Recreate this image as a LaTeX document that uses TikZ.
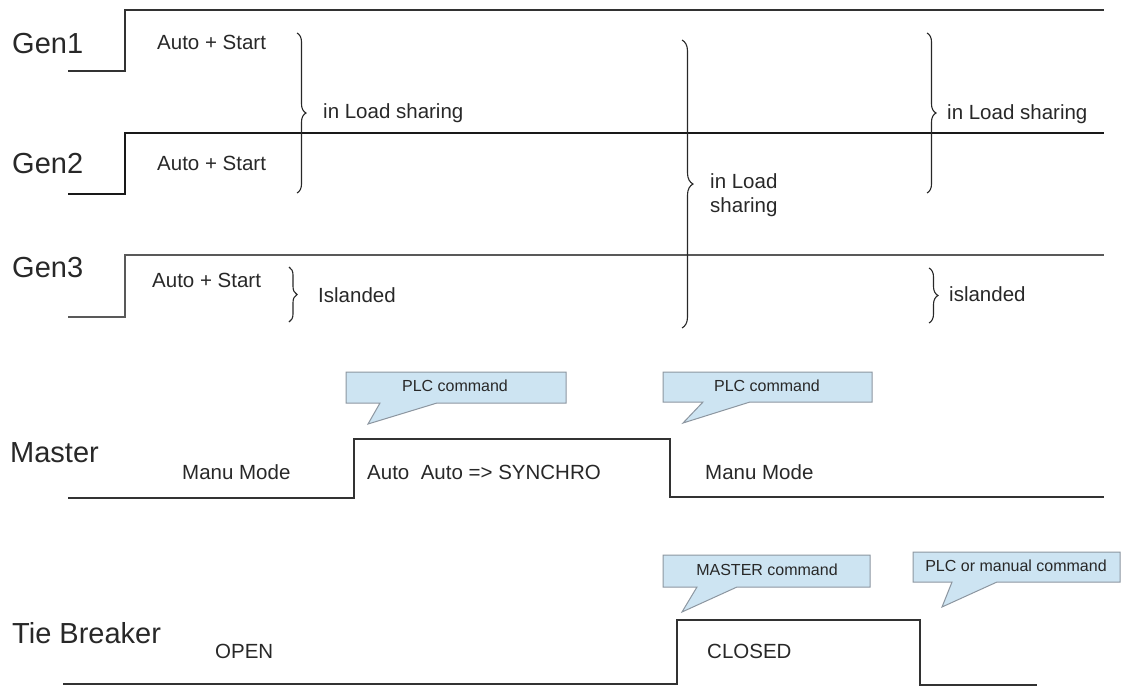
\documentclass[tikz,border=0pt]{standalone}
\usepackage{fontspec}
\setmainfont{Liberation Sans}
\usetikzlibrary{decorations.pathreplacing}
\definecolor{ink}{RGB}{40,40,40}
\definecolor{sig}{RGB}{50,50,50}
\definecolor{callfill}{RGB}{205,228,242}
\definecolor{callline}{RGB}{140,150,160}
\begin{document}
\begin{tikzpicture}[x=1pt,y=-1pt,
  biglab/.style={font=\fontsize{29}{34}\selectfont, anchor=base west, inner sep=0pt, text=ink},
  lab/.style={font=\fontsize{20.5}{24}\selectfont, anchor=base west, inner sep=0pt, text=ink},
  calltxt/.style={font=\fontsize{16}{19}\selectfont, inner sep=0pt, text=ink},
  wave/.style={draw=sig, line width=1.6pt, line join=miter},
  wavebold/.style={draw=black!90, line width=2.6pt, line join=miter},
  callout/.style={fill=callfill, draw=callline, line width=1pt},
  bracestyle/.style={draw=ink, line width=1.1pt, decorate, decoration={brace, amplitude=#1}},
]
\useasboundingbox (0,0) rectangle (1124,686);

% ---- waveforms ----
\draw[wave] (68,71) -- (125,71) -- (125,10) -- (1104,10);
\draw[wavebold] (68,194) -- (125,194) -- (125,133) -- (1104,133);
\draw[wave, draw=black!65] (68,317) -- (125,317) -- (125,255) -- (1104,255);
\draw[wave] (68,498) -- (354,498) -- (354,439) -- (670,439) -- (670,497) -- (1104,497);
\draw[wave] (63,684) -- (677,684) -- (677,620) -- (920,620) -- (920,685) -- (1037,685);

% ---- signal names ----
\node[biglab] (g1) at (12,53) {Gen1};
\node[biglab] (g2) at (12,173) {Gen2};
\node[biglab] (g3) at (12,277) {Gen3};
\node[biglab] (ms) at (10,462) {Master};
\node[biglab] (tb) at (12,643) {Tie Breaker};

% ---- state labels ----
\node[lab] (as1) at (157,49) {Auto + Start};
\node[lab] (as2) at (157,170) {Auto + Start};
\node[lab] (as3) at (152,287) {Auto + Start};
\node[lab] (ls1) at (323,118) {in Load sharing};
\node[lab] (ls2a) at (710,188) {in Load};
\node[lab] (ls2b) at (710,212) {sharing};
\node[lab] (ls3) at (947,119) {in Load sharing};
\node[lab] (isl1) at (318,302) {Islanded};
\node[lab] (isl2) at (949,301) {islanded};
\node[lab] (mm1) at (182,479) {Manu Mode};
\node[lab] (sync) at (367,479) {Auto\ \ Auto => SYNCHRO};
\node[lab] (mm2) at (705,479) {Manu Mode};
\node[lab] (open) at (215,658) {OPEN};
\node[lab] (closed) at (707,658) {CLOSED};

% ---- braces ----
\draw[bracestyle=9pt] (297,33) -- (297,193);
\draw[bracestyle=11pt] (682,40) -- (682,328);
\draw[bracestyle=9pt] (927,33) -- (927,193);
\draw[bracestyle=8pt] (289,267) -- (289,322);
\draw[bracestyle=9pt] (929,268) -- (929,323);

% ---- callouts ----
\draw[callout] (346,372) -- (566,372) -- (566,403) -- (437,403) -- (368,424) -- (380,403) -- (346,403) -- cycle;
\node[calltxt] (c1) at (455,386) {PLC command};
\draw[callout] (663,372) -- (872,372) -- (872,402) -- (750,402) -- (683,423) -- (703,402) -- (663,402) -- cycle;
\node[calltxt] (c2) at (767,386) {PLC command};
\draw[callout] (663,555) -- (870,555) -- (870,587) -- (737,587) -- (682,612) -- (697,587) -- (663,587) -- cycle;
\node[calltxt] (c3) at (767,570) {MASTER command};
\draw[callout] (913,552) -- (1120,552) -- (1120,582) -- (997,582) -- (942,607) -- (952,582) -- (913,582) -- cycle;
\node[calltxt] (c4) at (1016,566) {PLC or manual command};
\end{tikzpicture}
\end{document}
